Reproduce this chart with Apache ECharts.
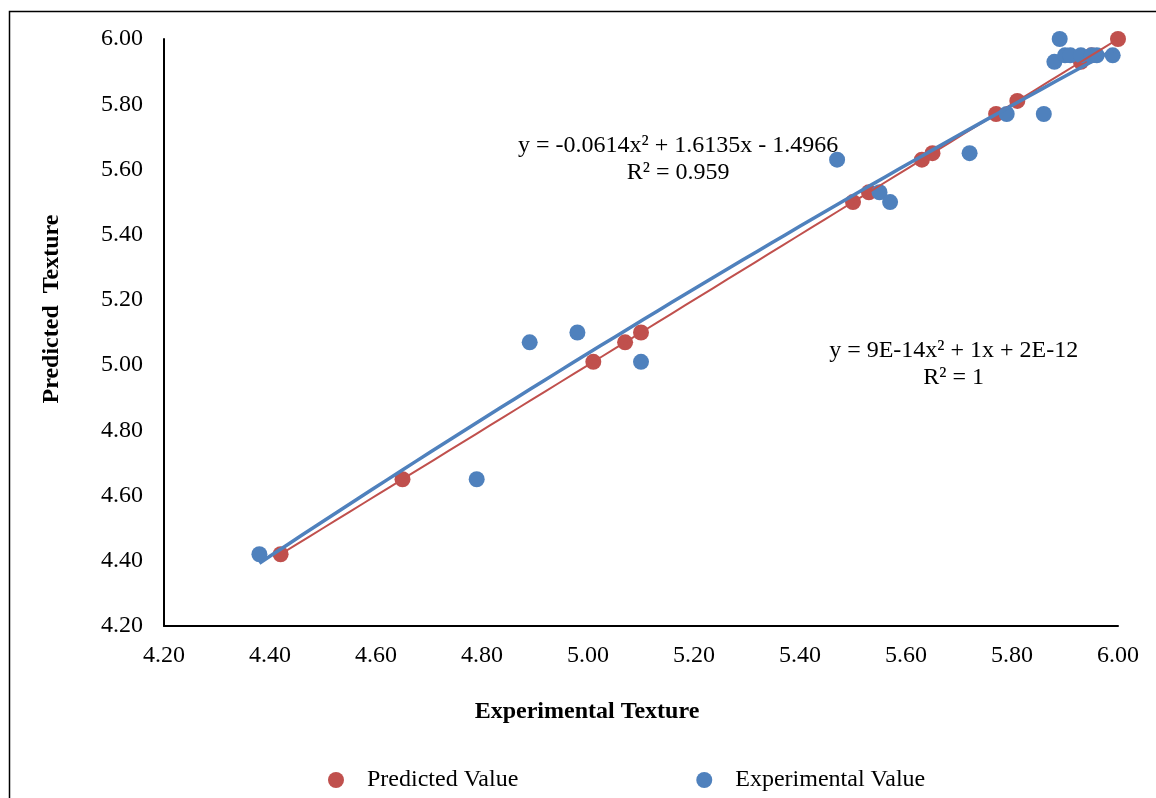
<!DOCTYPE html>
<html><head><meta charset="utf-8">
<script src="https://cdn.jsdelivr.net/npm/echarts@6/dist/echarts.min.js"></script>
<style>html,body{margin:0;padding:0;background:#fff}#c{width:1156px;height:798px}</style>
</head><body><div id="c"></div>
<script>
// Data
const predX = [4.42, 4.65, 5.01, 5.07, 5.10, 5.50, 5.53, 5.63, 5.65, 5.77, 5.81, 5.93, 5.95, 6.00];
const predY = [4.42, 4.65, 5.01, 5.07, 5.10, 5.50, 5.53, 5.63, 5.65, 5.77, 5.81, 5.93, 5.95, 6.00];
const expX = [4.38, 4.79, 4.89, 4.98, 5.10, 5.47, 5.55, 5.57, 5.72, 5.79, 5.86, 5.88, 5.89, 5.90, 5.91, 5.93, 5.95, 5.96, 5.99];
const expY = [4.42, 4.65, 5.07, 5.10, 5.01, 5.63, 5.53, 5.50, 5.65, 5.77, 5.77, 5.93, 6.00, 5.95, 5.95, 5.95, 5.95, 5.95, 5.95];
// Trendline coefficients as printed on the chart [a, b, c] for y = a x^2 + b x + c
const predFit = [9e-14, 1, 2e-12];
const expFit = [-0.0614, 1.6135, -1.4966];
const eqPred = ['y = 9E-14x² + 1x + 2E-12', 'R² = 1'];
const eqExp = ['y = -0.0614x² + 1.6135x - 1.4966', 'R² = 0.959'];
const xTitle = 'Experimental Texture';
const yTitle = 'Predicted  Texture';

function curve(fit, xs) {
  const lo = Math.min(...xs), hi = Math.max(...xs), n = 60, out = [];
  for (let i = 0; i <= n; i++) { const x = lo + (hi - lo) * i / n; out.push([x, fit[0]*x*x + fit[1]*x + fit[2]]); }
  return out;
}
const RED = '#c0504d', BLUE = '#4f81bd';
const font = 'Liberation Serif';
const FS = 24;
const chart = echarts.init(document.getElementById('c'));
chart.setOption({
  animation: false,
  textStyle: { fontFamily: font },
  grid: { left: 164, right: 38, top: 39, bottom: 172 },
  xAxis: {
    type: 'value', min: 4.2, max: 6.0, interval: 0.2,
    axisLine: { show: true, onZero: false, lineStyle: { color: '#000', width: 2 } },
    axisTick: { show: false }, splitLine: { show: false },
    axisLabel: { fontFamily: font, fontSize: FS, color: '#000', margin: 18, formatter: v => v.toFixed(2) }
  },
  yAxis: {
    type: 'value', min: 4.2, max: 6.0, interval: 0.2,
    axisLine: { show: true, onZero: false, lineStyle: { color: '#000', width: 2 } },
    axisTick: { show: false }, splitLine: { show: false },
    axisLabel: { fontFamily: font, fontSize: FS, color: '#000', margin: 21, formatter: v => v.toFixed(2) }
  },
  legend: {
    top: 763, left: 323, itemGap: 178, itemWidth: 16, itemHeight: 16,
    textStyle: { fontFamily: font, fontSize: FS, color: '#000', padding: [0, 0, 0, 18] },
    data: [{ name: 'Predicted Value', icon: 'circle' }, { name: 'Experimental Value', icon: 'circle' }]
  },
  series: [
    { name: 'Predicted Value', type: 'scatter', symbolSize: 16, itemStyle: { color: RED, opacity: 1 }, z: 3,
      data: predX.map((x, i) => [x, predY[i]]) },
    { name: 'Experimental Value', type: 'scatter', symbolSize: 16, itemStyle: { color: BLUE, opacity: 1 }, z: 4,
      data: expX.map((x, i) => [x, expY[i]]) },
    { name: 'predTrend', type: 'line', showSymbol: false, symbol: 'none', smooth: false, z: 5,
      lineStyle: { color: RED, width: 2 }, data: curve(predFit, predX) },
    { name: 'expTrend', type: 'line', showSymbol: false, symbol: 'none', smooth: false, z: 6,
      lineStyle: { color: BLUE, width: 3.5 }, data: curve(expFit, expX) }
  ]
});
// equation labels placed at data coordinates
const p1 = chart.convertToPixel({ gridIndex: 0 }, [5.17, 5.715]);
const p2 = chart.convertToPixel({ gridIndex: 0 }, [5.69, 5.087]);
const txt = (extra) => Object.assign({ font: FS + 'px "Liberation Serif"', fill: '#000' }, extra);
chart.setOption({
  graphic: [
    { type: 'rect', left: 7, top: 9, shape: { width: 1170, height: 820 }, style: { fill: 'none', stroke: '#000', lineWidth: 1.5 }, silent: true, z: 100 },
    { type: 'text', x: p1[0], y: p1[1], style: txt({ text: eqExp.join('\n'), align: 'center', verticalAlign: 'top', lineHeight: 27 }), z: 50 },
    { type: 'text', x: p2[0], y: p2[1], style: txt({ text: eqPred.join('\n'), align: 'center', verticalAlign: 'top', lineHeight: 27 }), z: 50 },
    { type: 'text', x: 587, y: 712, style: txt({ text: xTitle, align: 'center', verticalAlign: 'middle', font: 'bold ' + FS + 'px "Liberation Serif"' }), z: 50 },
    { type: 'text', x: 52, y: 309, rotation: Math.PI / 2, style: txt({ text: yTitle, align: 'center', verticalAlign: 'middle', font: 'bold ' + FS + 'px "Liberation Serif"' }), z: 50 }
  ]
});
</script></body></html>
